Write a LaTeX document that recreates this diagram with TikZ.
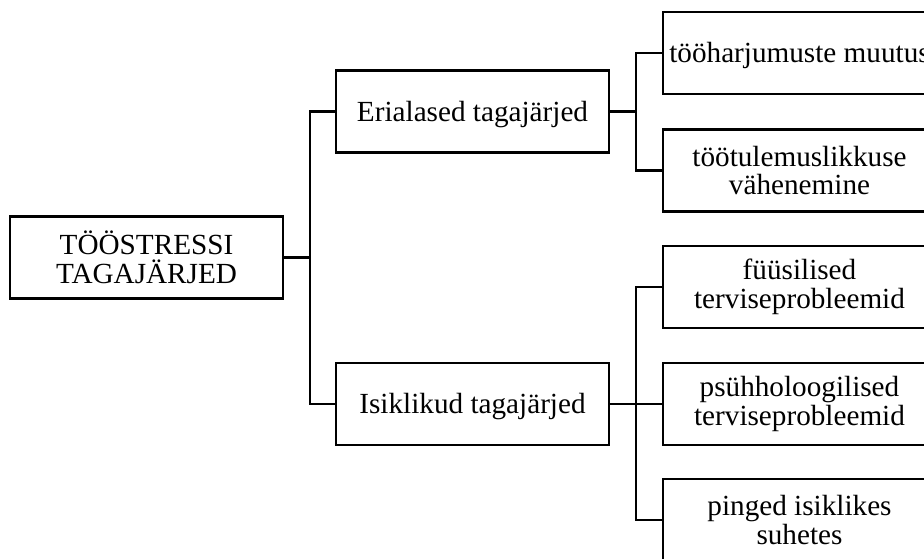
\documentclass[tikz,border=0pt]{standalone}
\usepackage{fontspec}
\setmainfont{Liberation Serif}
\begin{document}
\begin{tikzpicture}[
  x=0.75pt, y=-0.75pt,
  box/.style={draw=black, line width=1.9pt, fill=white, inner sep=0pt,
    minimum width=204.75pt, minimum height=61.5pt, align=center,
    font=\fontsize{21.9}{21.6}\selectfont,
    execute at begin node={\rule{0pt}{19.5pt}}},
  thinbox/.style={box, line width=0.8pt},
  link/.style={draw=black, line width=1.7pt, line join=miter}
]
\useasboundingbox (0,0) rectangle (924,558);
\clip (0,0) rectangle (924,558);
\fill[white] (0,0) rectangle (924,558);

% boxes
\node[box] (root) at (146.5,257.5) {TÖÖSTRESSI\\TAGAJÄRJED};
\node[box] (eri) at (472.5,111.5) {Erialased tagajärjed};
\node[box] (isi) at (472.5,404) {Isiklikud tagajärjed};
\node[box] (r1) at (799.5,53) {tööharjumuste muutus};
\node[box] (r2) at (799.5,170.5) {töötulemuslikkuse\\vähenemine};
\node[box] (r3) at (799.5,287) {füüsilised\\terviseprobleemid};
\node[thinbox] (r4) at (799.5,404) {psühholoogilised\\terviseprobleemid};
\node[box] (r5) at (799.5,520) {pinged isiklikes\\suhetes};

% junction points of the brackets
\coordinate (j0) at (310,257.5);
\coordinate (j1) at (636,111.5);
\coordinate (j2) at (636,404);

% connectors
\draw[link] (root.east) -- (j0);
\draw[link] (eri.west) -| (j0);
\draw[link] (isi.west) -| (j0);

\draw[link] (eri.east) -- (j1);
\draw[link] (r1.west) -| (j1);
\draw[link] (r2.west) -| (j1);

\draw[link] (isi.east) -- (j2);
\draw[link] (r3.west) -| (j2);
\draw[link] (r4.west) -- (j2);
\draw[link] (r5.west) -| (j2);
\end{tikzpicture}
\end{document}
